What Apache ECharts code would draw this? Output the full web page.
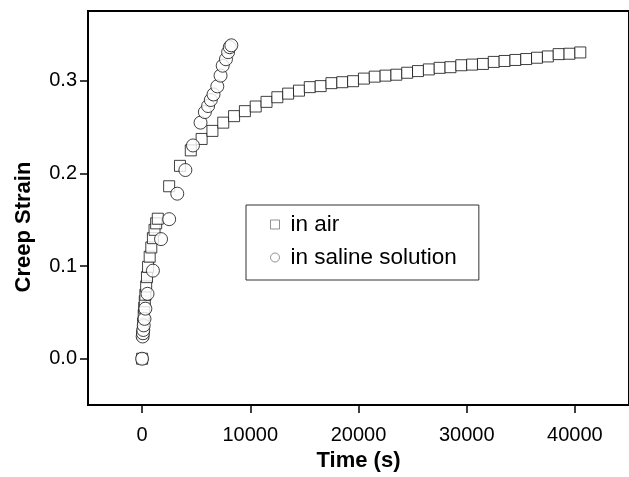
<!DOCTYPE html>
<html>
<head>
<meta charset="utf-8">
<script src="https://cdn.jsdelivr.net/npm/echarts@6/dist/echarts.min.js"></script>
<style>html,body{margin:0;padding:0;background:#fff;}#c{width:629px;height:477px;}</style>
</head>
<body>
<div id="c"></div>
<script>
const airTime = [0, 50, 100, 150, 200, 250, 300, 375, 450, 550, 700, 850, 1000, 1150, 1300, 1450,
  2500, 3500, 4500, 5500, 6500, 7500, 8500, 9500, 10500, 11500, 12500,
  13500, 14500, 15500, 16500, 17500, 18500, 19500, 20500, 21500, 22500, 23500, 24500, 25500, 26500,
  27500, 28500, 29500, 30500, 31500, 32500, 33500, 34500, 35500, 36500, 37500, 38500, 39500, 40500];
const airStrain = [0, 0.027, 0.038, 0.047, 0.055, 0.062, 0.069, 0.078, 0.088, 0.099, 0.110, 0.120, 0.130, 0.139, 0.146, 0.151,
  0.186, 0.208, 0.2247, 0.237, 0.2457, 0.2546, 0.2616, 0.267, 0.272, 0.277, 0.282,
  0.2859, 0.2891, 0.2929, 0.2940, 0.2972, 0.2982, 0.2993, 0.3021, 0.3042, 0.3053, 0.3063, 0.3084, 0.3102, 0.3120,
  0.3137, 0.3144, 0.3165, 0.3172, 0.3179, 0.3201, 0.3211, 0.3222, 0.3232, 0.3246, 0.3260, 0.3285, 0.3289, 0.3303];
const salineTime = [0, 50, 80, 110, 150, 220, 300, 500, 1000, 1750, 2500, 3250, 4000, 4700, 5400, 5800, 6100, 6350, 6600, 6950, 7250, 7450, 7750, 7950, 8100, 8250];
const salineStrain = [0, 0.024, 0.0275, 0.031, 0.036, 0.043, 0.054, 0.070, 0.095, 0.129, 0.1505, 0.178, 0.2035, 0.230, 0.2546, 0.266, 0.2725, 0.279, 0.285, 0.2937, 0.3053, 0.316, 0.323, 0.3306, 0.336, 0.338];
const xTicks = [0, 10000, 20000, 30000, 40000];
const yTicks = [0, 0.1, 0.2, 0.3];
const seriesNames = ['in air', 'in saline solution'];

const pair = (xs, ys) => xs.map((x, i) => [x, ys[i]]);
const FONT = 'Liberation Sans, Arial, sans-serif';

const chart = echarts.init(document.getElementById('c'), null, {renderer: 'canvas'});
chart.setOption({
  animation: false,
  backgroundColor: '#fff',
  grid: {left: 88, top: 11, right: -4, bottom: 64, show: true, borderColor: '#000', borderWidth: 2, containLabel: false},
  xAxis: {
    type: 'value', min: -5000, max: 45000,
    name: 'Time (s)', nameLocation: 'middle', nameGap: 43,
    nameTextStyle: {fontFamily: FONT, fontWeight: 'bold', fontSize: 22, color: '#000'},
    axisLine: {show: true, onZero: false, lineStyle: {color: '#000', width: 2}},
    axisTick: {show: true, inside: false, length: 8, customValues: xTicks, lineStyle: {color: '#000', width: 1.5}},
    axisLabel: {customValues: xTicks, fontFamily: FONT, fontSize: 20, color: '#000', margin: 20,
      formatter: v => String(Math.round(v))},
    splitLine: {show: false}
  },
  yAxis: {
    type: 'value', min: -0.05, max: 0.375,
    axisLine: {show: true, onZero: false, lineStyle: {color: '#000', width: 2}},
    axisTick: {show: true, inside: false, length: 8, customValues: yTicks, lineStyle: {color: '#000', width: 1.5}},
    axisLabel: {customValues: yTicks, fontFamily: FONT, fontSize: 20, color: '#000', margin: 11,
      formatter: v => v.toFixed(1)},
    splitLine: {show: false}
  },
  legend: {
    left: 246, top: 205, orient: 'vertical',
    borderColor: '#333', borderWidth: 1, padding: [8, 22, 11, 24],
    itemWidth: 9, itemHeight: 9, itemGap: 10,
    selectedMode: false,
    textStyle: {fontFamily: FONT, fontSize: 22.5, color: '#000', padding: [0, 0, 0, 6]},
    data: [
      {name: seriesNames[0], icon: 'rect', itemStyle: {color: '#fff', borderColor: '#777', borderWidth: 1}},
      {name: seriesNames[1], icon: 'circle', itemStyle: {color: '#fff', borderColor: '#777', borderWidth: 1}}
    ]
  },
  graphic: [{
    type: 'text', x: 24, y: 227, rotation: Math.PI / 2,
    style: {text: 'Creep Strain', fontFamily: FONT, fontWeight: 'bold', fontSize: 22, fill: '#000', align: 'center', verticalAlign: 'middle'}
  }],
  series: [
    {name: seriesNames[0], type: 'scatter', symbol: 'rect', symbolSize: 11, data: pair(airTime, airStrain),
      itemStyle: {color: '#fff', borderColor: '#111', borderWidth: 1}, emphasis: {disabled: true}, z: 2},
    {name: seriesNames[1], type: 'scatter', symbol: 'circle', symbolSize: 13, data: pair(salineTime, salineStrain),
      itemStyle: {color: '#fff', borderColor: '#111', borderWidth: 1}, emphasis: {disabled: true}, z: 3}
  ]
});
</script>
</body>
</html>
